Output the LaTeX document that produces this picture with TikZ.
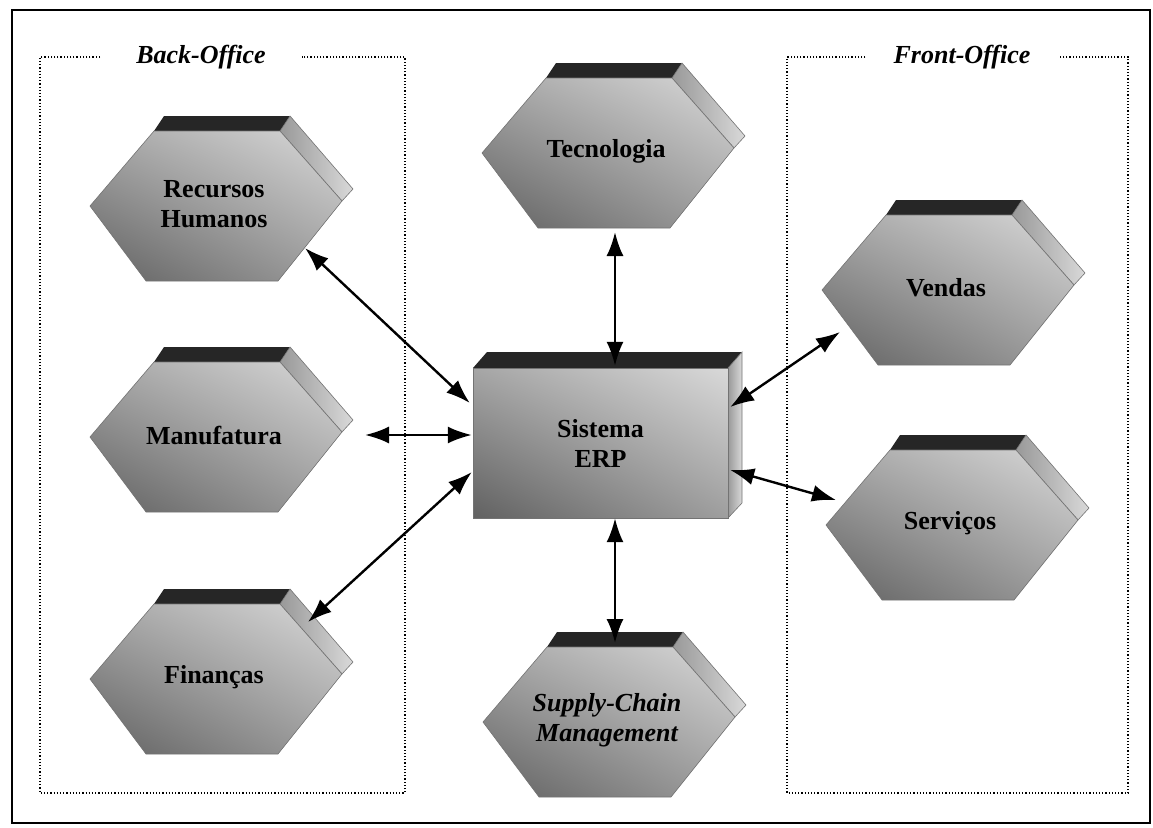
\documentclass[tikz,border=0pt]{standalone}
\usepackage{fontspec}
\setmainfont{Liberation Serif}
\usetikzlibrary{arrows.meta,calc,shadings}

\begin{document}
\begin{tikzpicture}[
  x=1pt, y=-1pt,
  hexfront/.style={draw=black!55, line width=0.6pt, upper left=black!35, upper right=black!15, lower left=black!62, lower right=black!38},
  hexband/.style={fill=black!85},
  hexside/.style={draw=black!55, line width=0.6pt, left color=black!40, right color=black!15},
  hexlabel/.style={font=\bfseries\fontsize{26}{30}\selectfont, align=center, inner sep=0pt},
  title/.style={font=\bfseries\itshape\fontsize{26}{30}\selectfont, inner ysep=0pt},
  officebox/.style={dotted, line width=1.2pt},
  biarrow/.style={<->, line width=2.4pt},
  >={Latex[length=24pt,width=17pt]}
]
  \useasboundingbox (0,0) rectangle (1153,827);

  % Outer frame
  \draw[line width=1.6pt] (12,10) rectangle (1150,823);

  % Back-Office and Front-Office boxes
  \node[title, inner xsep=36pt] (back) at (201,57) {Back-Office};
  \node[title, inner xsep=28pt] (front) at (962,57) {Front-Office};
  \draw[officebox] (back.west) -- (40,57) -- (40,793) -- (405,793) -- (405,57) -- (back.east);
  \draw[officebox] (front.west) -- (787,57) -- (787,793) -- (1128,793) -- (1128,57) -- (front.east);

  % Hexagons
  \foreach \nm/\px/\py/\lbl in {rh/216/206/{Recursos\\Humanos}, mf/216/437/{Manufatura}, fi/216/679/{Finan\c{c}as},
      tec/608/153/{Tecnologia}, sc/609/722/{\itshape Supply-Chain\\\itshape Management},
      ven/948/290/{Vendas}, ser/952/525/{Servi\c{c}os}}{
    \begin{scope}[shift={(\px,\py)}]
      \fill[hexband] (-62,-75) -- (-52,-90) -- (74,-90) -- (64,-75) -- cycle;
      \shade[hexside] (64,-75) -- (74,-90) -- (137,-17) -- (126,-5) -- cycle;
      \shade[hexfront] (-126,0) -- (-62,-75) -- (64,-75) -- (126,-5) -- (62,75) -- (-70,75) -- cycle;
      \node[hexlabel] (\nm) at (-2,-2) {\lbl};
    \end{scope}
  }

  % Sistema ERP
  \fill[hexband] (473,368) -- (487,352) -- (742,352) -- (728,368) -- cycle;
  \shade[hexside] (728,368) -- (742,352) -- (742,503) -- (728,518) -- cycle;
  \shade[hexfront] (473,368) rectangle (728,518);
  \node[hexlabel, minimum width=255pt, minimum height=150pt] (erp) at (600.5,443) {Sistema\\ERP};

  % Connections
  \draw[biarrow] ($(rh)+(91,44)$) -- ($(erp.west)+(-3,-40)$);
  \draw[biarrow] ($(mf)+(151,0)$) -- ($(erp.west)+(-1,-8)$);
  \draw[biarrow] ($(fi)+(94,-55)$) -- ($(erp.west)+(-1,29)$);
  \draw[biarrow] ($(tec)+(9,81)$) -- ($(erp.north)+(14.5,-2)$);
  \draw[biarrow] ($(erp.south)+(14.5,0)$) -- ($(sc)+(8,-77)$);
  \draw[biarrow] ($(erp.east)+(2,-36)$) -- ($(ven)+(-106,44)$);
  \draw[biarrow] ($(erp.east)+(2,27)$) -- ($(ser)+(-114,-23)$);
\end{tikzpicture}
\end{document}
